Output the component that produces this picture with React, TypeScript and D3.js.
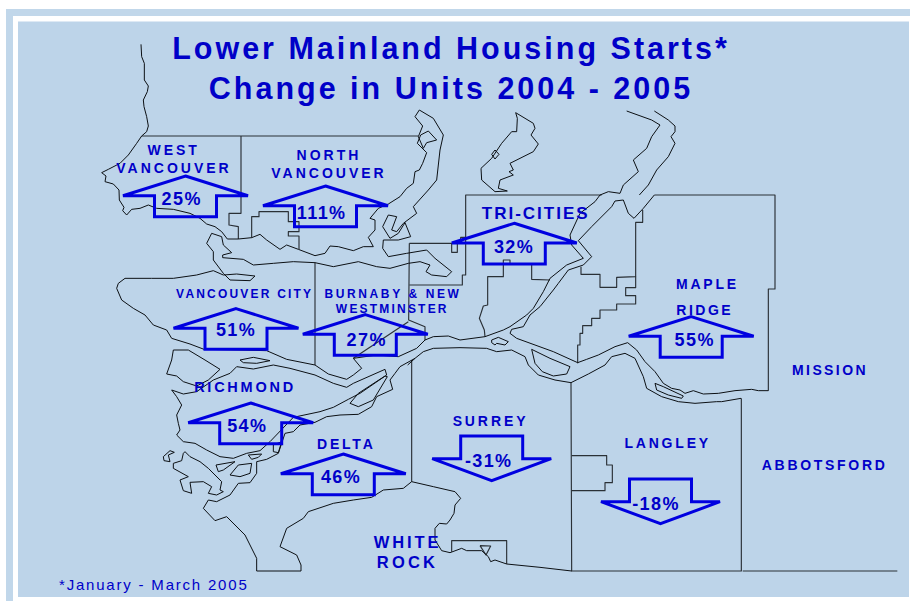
import React from "react";
import * as d3 from "d3";

type P = [number, number];

// Map outlines, in tenths-of-a-third map units
const northShore: P[] = [[423,133],[425,170],[433,190],[433,240],[445,258],[442,275],[430,300],[432,320],[440,350],[445,378],[440,395],[425,408],[410,430],[385,465],[360,490],[325,508],[305,518],[318,528],[315,545],[340,552],[357,570],[358,600],[372,622],[368,632],[380,645],[395,628],[420,625],[445,615],[470,625],[520,628],[570,640],[600,655],[620,672],[645,680],[665,695],[682,717],[715,717],[755,713],[780,703],[800,720],[840,748],[860,735],[895,748],[945,767],[975,760],[990,738],[1015,740],[1060,752],[1090,740],[1120,740],[1105,712],[1125,690],[1125,660],[1110,655],[1135,625],[1165,612],[1200,590],[1220,565],[1240,550],[1245,515],[1258,510],[1268,490],[1280,458],[1252,430],[1262,405],[1285,393],[1310,420],[1280,428],[1270,445],[1255,410],[1268,378],[1245,350],[1258,330],[1300,355],[1330,405],[1320,450],[1310,540],[1285,570],[1240,620],[1250,640],[1210,670],[1190,695],[1175,690],[1190,650],[1165,645],[1148,680],[1170,715],[1195,700],[1215,668],[1232,710],[1195,720],[1150,720],[1148,745],[1165,770],[1220,760],[1280,750],[1305,775],[1355,815],[1340,830],[1295,825],[1278,815],[1290,795],[1260,785],[1225,790],[1170,805],[1130,800],[1075,785],[1000,800],[945,788],[880,785],[820,790],[760,795],[730,778],[668,773],[668,765],[695,758],[670,735],[665,710],[635,700],[620,730],[640,755],[640,780],[670,820],[690,840],[750,842],[765,828],[710,822],[670,825],[640,812],[590,825],[520,835],[455,835],[375,835],[355,850],[350,865],[365,900],[400,925],[435,945],[460,975],[500,990],[515,1015],[570,1032],[612,1048],[720,1050],[800,1052],[860,1078],[945,1095],[985,1122],[1040,1138],[1060,1125],[1085,1105],[1060,1075],[1130,1065],[1195,1070],[1250,1045],[1275,1020],[1300,1010],[1345,1008],[1380,1020],[1455,1010],[1510,990],[1530,980],[1580,945],[1600,925],[1630,875],[1650,835],[1700,795],[1750,775],[1715,735],[1710,705],[1740,640],[1785,605],[1800,585],[1825,575],[1860,580],[1870,555],[1915,515],[1900,480],[1940,445],[1955,410],[1980,375],[1955,360],[1880,333]];
const pittEast: P[] = [[1963,333],[2005,360],[2025,378],[2025,395],[2013,410],[2025,430],[2005,470],[1970,510],[1945,555],[1918,585]];
const pittSouth: P[] = [[1735,722],[1775,680],[1835,620],[1845,603],[1870,600],[1885,640],[1902,655],[1930,625],[1963,585]];
const pittInner: P[] = [[1735,722],[1775,770],[1750,795],[1705,810],[1675,850],[1660,870],[1620,920],[1590,945],[1570,980],[1535,988],[1530,1000],[1550,1015],[1660,1055],[1733,1088],[1760,1078],[1795,1065],[1845,1040],[1883,1028],[1910,1050],[1935,1085],[1965,1115],[1990,1150],[2015,1165],[2040,1170],[2055,1180],[2080,1172],[2110,1182],[2155,1180],[2205,1172],[2255,1168],[2275,1172],[2305,1172]];
const southBank: P[] = [[1223,1095],[1245,1075],[1270,1055],[1300,1045],[1380,1043],[1460,1045],[1490,1055],[1535,1050],[1575,1070],[1585,1095],[1615,1125],[1665,1140],[1713,1148],[1765,1122],[1815,1095],[1835,1070],[1875,1060],[1905,1075],[1930,1130],[1940,1165],[1985,1190],[2035,1205],[2085,1210],[2150,1205],[2165,1205],[2223,1195]];
const deltaShore: P[] = [[1245,1075],[1200,1100],[1185,1120],[1170,1140],[1178,1168],[1130,1190],[1115,1220],[1075,1243],[1020,1245],[980,1250],[945,1267],[900,1275],[880,1295],[855,1300],[845,1330],[835,1360],[800,1378],[770,1385],[770,1420],[750,1448],[715,1450],[690,1485],[650,1505],[625,1500],[610,1525],[645,1562],[680,1550],[735,1605],[770,1675],[770,1713],[903,1713],[903,1695],[890,1665],[840,1640],[860,1585],[910,1555],[925,1535],[1000,1510],[1060,1500],[1115,1492],[1150,1470],[1210,1465],[1235,1445],[1300,1460],[1365,1475],[1382,1495],[1365,1515],[1362,1540],[1350,1560],[1340,1572],[1318,1570],[1305,1585],[1305,1620],[1325,1652],[1350,1658],[1385,1645],[1400,1652],[1445,1652],[1465,1670],[1472,1685],[1485,1680],[1520,1692],[1620,1702],[1715,1713]];
const seaIsland: P[] = [[520,1050],[515,1080],[500,1122],[530,1128],[550,1145],[590,1158],[625,1140],[660,1108],[615,1080],[565,1050],[520,1050]];
const luluIsland: P[] = [[880,1252],[810,1325],[780,1352],[740,1360],[700,1375],[660,1370],[620,1350],[585,1330],[550,1325],[530,1305],[540,1290],[535,1270],[530,1245],[545,1215],[530,1190],[515,1170],[550,1182],[590,1175],[640,1140],[690,1120],[710,1100],[760,1107],[820,1095],[870,1105],[945,1125],[1000,1150],[1040,1162],[1060,1150],[1155,1108],[1160,1125],[1080,1180],[1045,1198],[1000,1222],[960,1235],[880,1252]];
const seaBar: P[] = [[720,1080],[760,1072],[810,1082],[770,1090],[730,1088],[720,1080]];
const annacis: P[] = [[1050,1210],[1075,1220],[1120,1200],[1162,1130],[1155,1128],[1075,1180],[1050,1210]];
const westham: P[] = [[555,1355],[570,1370],[600,1385],[625,1405],[665,1445],[660,1470],[670,1475],[650,1485],[625,1480],[635,1460],[610,1445],[570,1447],[575,1480],[550,1472],[540,1440],[565,1430],[520,1405],[520,1390],[545,1382],[550,1360],[555,1355]];
const isletA: P[] = [[490,1370],[510,1352],[523,1357],[505,1365],[510,1385],[492,1382],[490,1370]];
const isletB: P[] = [[648,1395],[705,1385],[670,1410],[655,1415],[648,1395]];
const isletC: P[] = [[690,1425],[715,1395],[755,1390],[750,1420],[720,1430],[690,1425]];
const isletD: P[] = [[745,1365],[785,1362],[775,1372],[755,1378],[745,1365]];
const isletE: P[] = [[820,1335],[845,1325],[835,1358],[820,1355],[820,1335]];
const douglas: P[] = [[1475,1020],[1495,1012],[1525,1025],[1515,1035],[1490,1030],[1485,1035],[1475,1028],[1475,1020]];
const barnston: P[] = [[1595,1048],[1650,1075],[1710,1100],[1700,1122],[1660,1128],[1627,1115],[1605,1090],[1595,1048]];
const crescent: P[] = [[1965,1150],[1990,1160],[2050,1188],[2045,1195],[2005,1185],[1970,1170],[1965,1150]];
const buntzen: P[] = [[1547,338],[1600,370],[1605,385],[1593,405],[1615,432],[1600,455],[1530,490],[1540,510],[1527,515],[1540,525],[1500,540],[1495,565],[1522,573],[1485,575],[1445,540],[1443,505],[1475,475],[1505,430],[1535,395],[1550,395],[1552,355],[1547,338]];
const buntzenMark: P[] = [[1485,450],[1497,463],[1485,477],[1475,463],[1485,450]];

const coastLines: P[][] = [northShore, pittEast, pittSouth, pittInner, southBank, deltaShore, seaIsland, luluIsland, seaBar, annacis, westham, isletA, isletB, isletC, isletD, isletE, douglas, barnston, crescent, buntzen, buntzenMark];

const northLimit: P[] = [[425,408],[1255,408]];
const westVanEdge: P[] = [[723,408],[723,640],[687,640],[687,675],[715,680],[715,717]];
const northVanInner: P[] = [[755,713],[755,650],[777,650],[777,635],[865,635],[865,665],[897,665],[897,695],[865,695],[865,708],[897,708],[897,748]];
const vancouverEdge: P[] = [[945,788],[945,1095]];
const burnabyEdge: P[] = [[1228,730],[1226,960],[1275,980],[1275,1020]];
const burnabyDiag: P[] = [[1225,965],[1060,1075]];
const portMoody: P[] = [[1228,855],[1387,855],[1387,825],[1397,825],[1397,585],[1805,585]];
const moodyTop: P[] = [[1228,730],[1355,730],[1355,757],[1372,757],[1372,730],[1382,730],[1382,712],[1397,712]];
const triWestA: P[] = [[1510,792],[1510,780],[1530,780],[1530,792]];
const triWestB: P[] = [[1510,792],[1510,830],[1463,830],[1463,915],[1450,918],[1438,955],[1453,990],[1455,1010]];
const triEast: P[] = [[1595,795],[1595,838],[1650,840]];
const mapleTop: P[] = [[1963,585],[2325,585],[2325,867],[2305,867],[2305,1172]];
const mapleWest: P[] = [[1928,630],[1928,667],[1907,667],[1907,830],[1850,832],[1850,862],[1800,862],[1800,823],[1743,823],[1743,800]];
const mapleSteps: P[] = [[1907,830],[1907,863],[1877,863],[1877,887],[1907,887],[1907,912],[1850,912],[1850,930],[1800,930],[1800,955],[1775,955],[1775,977],[1748,977],[1748,1000],[1740,1000],[1740,1035],[1733,1035],[1733,1090]];
const surreyEdge: P[] = [[1235,1080],[1235,1445]];
const whiteRockBox: P[] = [[1355,1655],[1355,1622],[1520,1622],[1520,1692]];
const whiteRockMark: P[] = [[1440,1637],[1472,1638],[1458,1665],[1440,1637]];
const langleyBox: P[] = [[1713,1148],[1715,1713],[2224,1713],[2224,1195]];
const langleyNotch: P[] = [[1715,1367],[1820,1367],[1820,1395],[1837,1395],[1837,1448],[1815,1448],[1815,1472],[1715,1472]];
const abbotsfordEdge: P[] = [[2228,1713],[2692,1713]];

const edgeLines: P[][] = [northLimit, westVanEdge, northVanInner, vancouverEdge, burnabyEdge, burnabyDiag, portMoody, moodyTop, triWestA, triWestB, triEast, mapleTop, mapleWest, mapleSteps, surreyEdge, whiteRockBox, whiteRockMark, langleyBox, langleyNotch, abbotsfordEdge];

// Municipalities and their change in units
const arrowNames = ["West Vancouver", "North Vancouver", "Tri-Cities", "Vancouver City", "Burnaby & New Westminster", "Richmond", "Delta", "Maple Ridge", "Surrey", "Langley"];
const arrowChange = [25, 111, 32, 51, 27, 54, 46, 55, -31, -18];
const arrowCx = [185.5, 325.5, 514.3, 236, 365.3, 250.7, 343.3, 691.2, 491.7, 660.5];
const arrowTopY = [176, 186, 223.3, 308.6, 314.6, 403, 454, 316.6, 436, 479];
const valueCx = [181.7, 321.7, 514, 236, 366.7, 247.3, 341, 694.7, 488.7, 656];
const valueBase = [205, 219.3, 252.7, 336, 345.7, 432, 482.7, 345.7, 466.7, 510];

const placeText = ["WEST", "VANCOUVER", "NORTH", "VANCOUVER", "TRI-CITIES", "VANCOUVER CITY", "BURNABY & NEW", "WESTMINSTER", "RICHMOND", "DELTA", "WHITE", "ROCK", "MAPLE", "RIDGE", "MISSION", "SURREY", "LANGLEY", "ABBOTSFORD"];
const placeX = [173.7, 174, 329, 329, 535.7, 244.7, 393, 392.3, 245, 346.3, 407.5, 407.5, 707.5, 704.7, 830, 490.5, 667.7, 824.7];
const placeY = [155, 173, 160.3, 178.3, 219, 298.3, 297.7, 313.3, 392, 449, 547.7, 567.7, 289, 315, 375, 426, 447.7, 470];
const placeSize = [14, 14, 14, 14, 17, 12, 12, 12, 14.5, 14, 16.5, 16.5, 14, 14, 14, 14, 14, 14];
const placeSpacing = [3, 3, 3, 3, 2, 2.2, 2.6, 2.2, 2.75, 2.8, 2.9, 3.2, 2.8, 2.5, 2.4, 2.9, 2.8, 2.7];

const titleLines = ["Lower Mainland Housing Starts*", "Change in Units 2004 - 2005"];
const titleBase = [59, 99];
const footnote = "*January - March 2005";

const x = d3.scaleLinear().domain([0, 2730]).range([0, 910]);
const y = d3.scaleLinear().domain([0, 1803]).range([0, 601]);
const outline = d3.line<P>().x(d => x(d[0])).y(d => y(d[1]));

const BLUE = "#0000c8";
const ARROW = "#0000e0";
const FONT = "'Liberation Sans', Arial, sans-serif";

function arrowPath(cx: number, top: number, up: boolean) {
  const headUp = 62.5, headDown = 59.5, stem = 31;
  const pts: P[] = up
    ? [[cx, top], [cx + headUp, top + 19.7], [cx + stem, top + 19.7], [cx + stem, top + 40.7], [cx - stem, top + 40.7], [cx - stem, top + 19.7], [cx - headUp, top + 19.7]]
    : [[cx - stem, top], [cx + stem, top], [cx + stem, top + 22.7], [cx + headDown, top + 22.7], [cx, top + 44.7], [cx - headDown, top + 22.7], [cx - stem, top + 22.7]];
  return d3.line<P>()(pts) + "Z";
}

export default function App() {
  return (
    <svg width={910} height={601} style={{ position: "absolute", left: 0, top: 0, display: "block" }} fontFamily={FONT}>
      <rect x={0} y={0} width={910} height={601} fill="#ffffff" />
      <rect x={6} y={9} width={904} height={592} fill="#c1d7ea" />
      <rect x={13} y={16} width={897} height={585} fill="#ffffff" />
      <rect x={18} y={21.5} width={891} height={575.5} fill="#bdd4e9" />
      <g fill="none" strokeLinejoin="round">
        {edgeLines.map((l, i) => <path key={i} d={outline(l) ?? ""} stroke="#2a3036" strokeWidth={1.15} />)}
        {coastLines.map((l, i) => <path key={i} d={outline(l) ?? ""} stroke="#0c1014" strokeWidth={1} />)}
      </g>
      {arrowNames.map((n, i) => (
        <path key={n} d={arrowPath(arrowCx[i], arrowTopY[i], arrowChange[i] > 0)} fill="none" stroke={ARROW} strokeWidth={3} strokeLinejoin="miter" strokeMiterlimit={4} />
      ))}
      <g fill={BLUE} fontWeight="bold" textAnchor="middle">
        {titleLines.map((t, i) => (
          <text key={t} x={451} y={titleBase[i]} fontSize={30.5} letterSpacing={3}>{t}</text>
        ))}
        {placeText.map((t, i) => (
          <text key={i} x={placeX[i]} y={placeY[i]} fontSize={placeSize[i]} letterSpacing={placeSpacing[i]}>{t}</text>
        ))}
        {arrowChange.map((v, i) => (
          <text key={i} x={valueCx[i]} y={valueBase[i]} fontSize={18} letterSpacing={1.4}>{v}%</text>
        ))}
      </g>
      <text x={59} y={590} fontSize={15} letterSpacing={1.8} fill={BLUE}>{footnote}</text>
    </svg>
  );
}
